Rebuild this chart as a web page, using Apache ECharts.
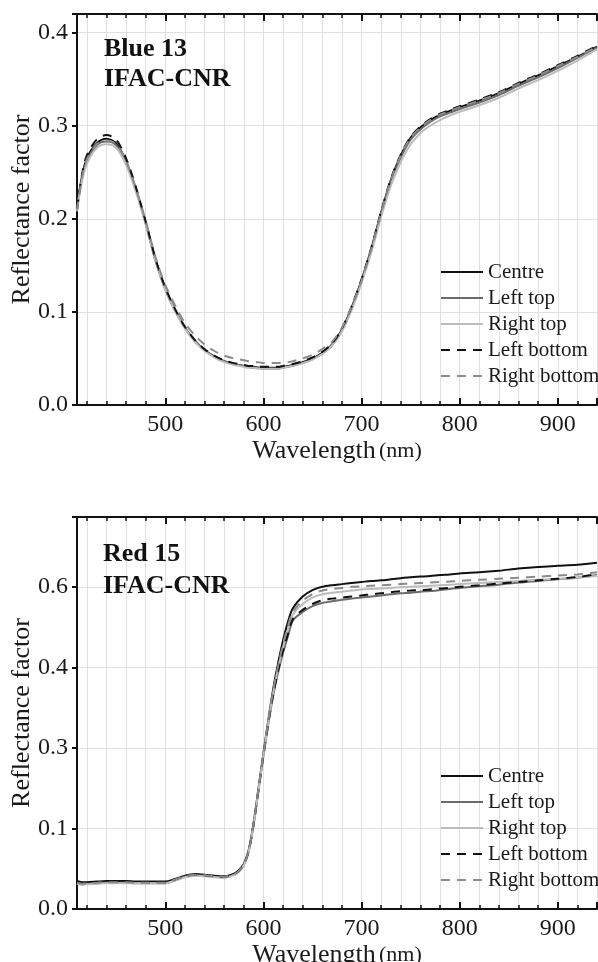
<!DOCTYPE html>
<html><head><meta charset="utf-8">
<script src="https://cdn.jsdelivr.net/npm/echarts@6/dist/echarts.min.js"></script>
<style>html,body{margin:0;padding:0;background:#fff}#c{width:598px;height:962px}</style>
</head><body><div id="c"></div>
<script>
const wavelengths = [410,415,420,430,440,450,460,470,480,490,
  500,510,520,530,540,550,560,570,575,580,
  585,590,595,600,605,610,615,620,625,630,
  640,650,660,670,680,690,700,710,720,730,
  740,750,760,770,780,790,800,820,840,860,
  880,900,920,940];

const seriesNames = ['Centre','Left top','Right top','Left bottom','Right bottom'];

// Blue 13
const blueCentre = [.210,.245,.265,.281,.286,.281,.262,.232,.196,.156,
  .125,.102,.083,.069,.059,.052,.047,.044,.043,.042,
  .041,.041,.040,.040,.040,.040,.040,.041,.042,.043,
  .046,.050,.056,.065,.081,.105,.134,.168,.207,.242,
  .268,.287,.298,.306,.312,.316,.320,.327,.335,.345,
  .354,.364,.374,.385];
const blueLeftTop = [.212,.243,.262,.279,.283,.279,.261,.231,.195,.155,
  .124,.101,.083,.069,.059,.052,.047,.044,.043,.042,
  .041,.040,.040,.039,.039,.039,.039,.040,.041,.042,
  .045,.049,.055,.064,.080,.104,.133,.167,.206,.241,
  .266,.285,.296,.304,.310,.314,.318,.325,.333,.343,
  .352,.362,.373,.384];
const blueRightTop = [.208,.240,.259,.276,.280,.276,.258,.229,.194,.155,
  .124,.101,.082,.068,.058,.051,.046,.043,.042,.041,
  .040,.040,.039,.039,.039,.039,.039,.040,.041,.042,
  .045,.049,.055,.064,.079,.102,.131,.164,.202,.236,
  .261,.280,.292,.300,.306,.311,.315,.322,.330,.340,
  .349,.359,.370,.382];
const blueLeftBottom = [.211,.247,.268,.285,.290,.285,.265,.234,.197,.157,
  .126,.103,.084,.070,.060,.053,.048,.045,.044,.043,
  .042,.042,.041,.041,.041,.041,.041,.042,.043,.044,
  .047,.051,.057,.066,.082,.106,.135,.169,.208,.243,
  .269,.288,.299,.307,.313,.317,.321,.328,.336,.346,
  .355,.365,.375,.386];
const blueRightBottom = [.209,.244,.264,.280,.284,.280,.262,.233,.198,.159,
  .129,.107,.088,.075,.065,.058,.053,.050,.049,.048,
  .047,.046,.046,.045,.045,.045,.045,.046,.046,.047,
  .050,.054,.060,.068,.083,.106,.134,.168,.207,.242,
  .268,.287,.298,.306,.312,.316,.320,.327,.335,.345,
  .354,.364,.374,.385];

// Red 15
const redCentre = [.052,.050,.050,.051,.052,.052,.052,.051,.051,.051,
  .051,.056,.062,.065,.064,.062,.061,.066,.072,.084,
  .110,.160,.225,.290,.352,.410,.458,.500,.535,.560,
  .582,.594,.600,.603,.605,.607,.609,.611,.612,.614,
  .616,.618,.619,.620,.622,.623,.625,.627,.630,.634,
  .637,.639,.641,.645];
const redLeftTop = [.048,.046,.047,.048,.049,.049,.049,.048,.048,.048,
  .048,.054,.060,.063,.062,.060,.059,.064,.070,.082,
  .107,.157,.221,.285,.345,.398,.441,.477,.508,.537,
  .553,.564,.570,.573,.576,.578,.580,.582,.584,.586,
  .588,.589,.591,.592,.594,.596,.598,.601,.604,.608,
  .611,.614,.617,.622];
const redRightTop = [.047,.045,.046,.047,.048,.048,.048,.048,.048,.048,
  .048,.053,.059,.062,.061,.059,.058,.063,.069,.081,
  .107,.157,.222,.286,.348,.404,.449,.488,.521,.548,
  .568,.580,.586,.589,.591,.593,.595,.596,.597,.598,
  .599,.600,.601,.602,.603,.604,.605,.607,.609,.611,
  .613,.615,.617,.620];
const redLeftBottom = [.050,.049,.049,.050,.051,.051,.051,.050,.050,.050,
  .050,.055,.061,.064,.063,.061,.060,.065,.071,.083,
  .108,.158,.222,.286,.346,.400,.444,.481,.512,.540,
  .557,.568,.575,.578,.580,.582,.584,.586,.588,.590,
  .592,.593,.594,.595,.597,.598,.600,.603,.606,.609,
  .612,.615,.618,.624];
const redRightBottom = [.049,.047,.048,.049,.050,.050,.050,.049,.049,.049,
  .049,.055,.061,.064,.063,.061,.060,.065,.071,.083,
  .109,.159,.224,.288,.350,.407,.453,.493,.527,.553,
  .574,.586,.593,.596,.598,.600,.601,.602,.603,.604,
  .605,.606,.607,.608,.609,.610,.611,.613,.615,.617,
  .619,.621,.623,.627];

const xTickLabels = [500,600,700,800,900];
const yTicksBlue = [0,0.1,0.2,0.3,0.4];
const yLabelsBlue = ['0.0','0.1','0.2','0.3','0.4'];
const yTicksRed = [0,0.15,0.30,0.45,0.60];
const yLabelsRed = ['0.0','0.1','0.3','0.4','0.6'];

const FONT = 'Liberation Serif';
const TXT = '#1a1a1a';
const lineStyles = [
  {color:'#111111', type:'solid', width:2},
  {color:'#6c6c6c', type:'solid', width:2},
  {color:'#bcbcbc', type:'solid', width:2},
  {color:'#111111', type:[9,7], width:2},
  {color:'#8a8a8a', type:[9,7], width:2}
];

const chart = echarts.init(document.getElementById('c'), null, {renderer:'canvas'});

function xAxesFor(g, nameGap) {
  const base = {gridIndex:g, type:'value', min:410, max:940};
  return [
    Object.assign({}, base, {
      position:'bottom', splitNumber:5,
      axisLine:{show:true, onZero:false, lineStyle:{color:'#111', width:2}},
      axisTick:{show:true, inside:true, length:7, lineStyle:{color:'#111', width:2}},
      axisLabel:{show:true, margin:8, fontSize:24, fontFamily:FONT, color:TXT,
        formatter:v => xTickLabels.indexOf(v) >= 0 ? String(v) : ''},
      splitLine:{show:false},
      name:'{a|Wavelength} {b|(nm)}', nameLocation:'middle', nameGap:nameGap,
      nameTextStyle:{rich:{a:{fontSize:26, fontFamily:FONT, color:TXT}, b:{fontSize:22, fontFamily:FONT, color:TXT}}}
    }),
    Object.assign({}, base, {
      position:'bottom', splitNumber:26,
      axisLine:{show:false, onZero:false},
      axisTick:{show:true, inside:true, length:4, lineStyle:{color:'#111', width:1.5}},
      axisLabel:{show:false},
      splitLine:{show:true, lineStyle:{color:'#e0e0e0', width:1}}
    }),
    Object.assign({}, base, {
      position:'top', splitNumber:5,
      axisLine:{show:true, onZero:false, lineStyle:{color:'#111', width:2}},
      axisTick:{show:true, inside:true, length:7, lineStyle:{color:'#111', width:2}},
      axisLabel:{show:false}, splitLine:{show:false}
    }),
    Object.assign({}, base, {
      position:'top', splitNumber:26,
      axisLine:{show:false, onZero:false},
      axisTick:{show:true, inside:true, length:4, lineStyle:{color:'#111', width:1.5}},
      axisLabel:{show:false}, splitLine:{show:false}
    })
  ];
}

function yAxisFor(g, max, interval, ticks, labels) {
  return {
    gridIndex:g, type:'value', min:0, max:max, interval:interval, position:'left',
    axisLine:{show:true, onZero:false, lineStyle:{color:'#111', width:2}},
    axisTick:{show:true, inside:false, length:5, lineStyle:{color:'#111', width:2}},
    axisLabel:{margin:9, fontSize:24, fontFamily:FONT, color:TXT,
      formatter:v => { const i = ticks.findIndex(t => Math.abs(t - v) < 1e-6); return i >= 0 ? labels[i] : ''; }},
    splitLine:{show:true, lineStyle:{color:'#e0e0e0', width:1}},
    name:'Reflectance factor', nameLocation:'middle', nameGap:42, nameMoveOverlap:false,
    nameTextStyle:{fontSize:26, fontFamily:FONT, color:TXT}
  };
}

const blueSets = [blueCentre, blueLeftTop, blueRightTop, blueLeftBottom, blueRightBottom];
const redSets = [redCentre, redLeftTop, redRightTop, redLeftBottom, redRightBottom];

const series = [];
[blueSets, redSets].forEach((sets, g) => {
  sets.forEach((arr, k) => {
    series.push({
      name: seriesNames[k], type:'line', xAxisIndex: g*4 + 1, yAxisIndex: g,
      symbol:'none', showSymbol:false, smooth:0.3,
      lineStyle: lineStyles[k], itemStyle:{color: lineStyles[k].color},
      data: wavelengths.map((w, i) => [w, arr[i]])
    });
  });
});

function legendAt(top) {
  return {
    orient:'vertical', left:440, top:top, padding:0, itemWidth:42, itemHeight:12, itemGap:4,
    data: seriesNames,
    itemStyle:{opacity:0},
    textStyle:{fontSize:21, fontFamily:FONT, color:TXT, lineHeight:22}
  };
}

chart.setOption({
  animation:false,
  backgroundColor:'#ffffff',
  title:[
    {text:'Blue 13\nIFAC-CNR', left:104, top:34, padding:0,
      textStyle:{fontFamily:FONT, fontWeight:'bold', fontSize:26, lineHeight:30, color:'#111'}},
    {text:'Red 15\nIFAC-CNR', left:103, top:538, padding:0,
      textStyle:{fontFamily:FONT, fontWeight:'bold', fontSize:26, lineHeight:32, color:'#111'}}
  ],
  legend:[legendAt(261), legendAt(765)],
  grid:[
    {left:77, top:14, width:520, height:391, containLabel:false, outerBoundsMode:'none'},
    {left:77, top:517, width:520, height:392, containLabel:false, outerBoundsMode:'none'}
  ],
  xAxis: xAxesFor(0, 29).concat(xAxesFor(1, 32)),
  yAxis:[
    yAxisFor(0, 0.42, 0.1, yTicksBlue, yLabelsBlue),
    yAxisFor(1, 0.73, 0.15, yTicksRed, yLabelsRed)
  ],
  series: series
});
</script>
</body></html>
